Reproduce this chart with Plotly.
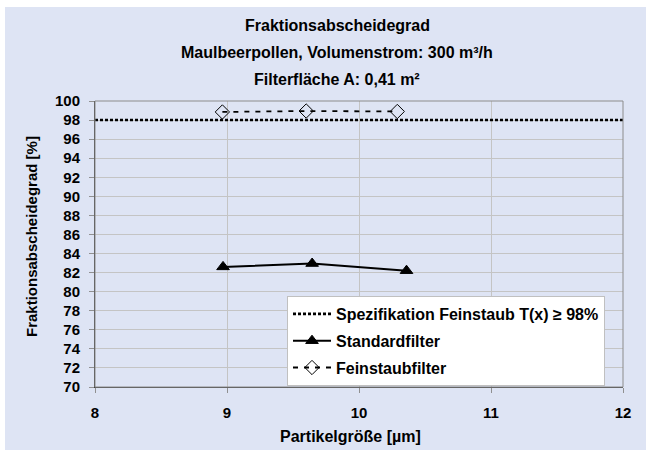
import plotly.graph_objects as go

# ---- data ----
x_spec = [8, 12]
y_spec = [98, 98]

x_standard = [8.97, 9.645, 10.36]
y_standard = [82.6, 82.95, 82.2]

x_fein = [8.965, 9.6, 10.29]
y_fein = [98.85, 98.95, 98.9]

title_lines = ["Fraktionsabscheidegrad",
               "Maulbeerpollen, Volumenstrom: 300 m³/h",
               "Filterfläche A: 0,41 m²"]
x_ticks = [8, 9, 10, 11, 12]
y_ticks = list(range(70, 101, 2))

FONT = "Liberation Sans, Arial, sans-serif"

# pixel geometry of the plot area
W, H = 646, 450
L, R, T, B = 95, 623, 101, 387


def px(xp):
    return (xp - L) / (R - L)


def py(yp):
    return (B - yp) / (B - T)


fig = go.Figure()
fig.add_trace(go.Scatter(
    x=x_spec, y=y_spec, mode="lines", name="Spezifikation Feinstaub T(x) ≥ 98%",
    line=dict(color="black", width=2.6, dash="3px,2px"), legendgroup="a"))
fig.add_trace(go.Scatter(
    x=x_standard, y=y_standard, mode="lines+markers", name="Standardfilter",
    line=dict(color="black", width=2),
    marker=dict(symbol="triangle-up", size=11, color="black",
                line=dict(color="black", width=1)), legendgroup="b"))
fig.add_trace(go.Scatter(
    x=x_fein, y=y_fein, mode="lines+markers", name="Feinstaubfilter",
    line=dict(color="black", width=1.8, dash="5px,6px"),
    marker=dict(symbol="diamond-open", size=11, color="black",
                line=dict(color="black", width=1)), legendgroup="c"))

annotations = []
for i, t in enumerate(title_lines):
    annotations.append(dict(text=f"<b>{t}</b>", x=px(337), y=py(26 + 26.5 * i),
                            xref="paper", yref="paper", showarrow=False,
                            xanchor="center", yanchor="middle",
                            font=dict(family=FONT, size=16, color="black")))
annotations.append(dict(text="<b>Partikelgröße [µm]</b>", x=px(350), y=py(436),
                        xref="paper", yref="paper", showarrow=False,
                        xanchor="center", yanchor="middle",
                        font=dict(family=FONT, size=16, color="black")))
annotations.append(dict(text="<b>Fraktionsabscheidegrad [%]</b>", x=px(31), y=py(237),
                        xref="paper", yref="paper", showarrow=False, textangle=-90,
                        xanchor="center", yanchor="middle",
                        font=dict(family=FONT, size=15, color="black")))

shapes = [
    dict(type="rect", xref="paper", yref="paper", layer="below",
         x0=px(5), x1=px(W + 2), y0=py(H + 2), y1=py(7),
         fillcolor="#DEE4F4", line=dict(width=0)),
    dict(type="rect", xref="paper", yref="paper", layer="above",
         x0=0, x1=1, y0=0, y1=1, line=dict(color="#8c8c8c", width=1)),
]

fig.update_layout(
    width=W, height=H,
    margin=dict(l=L, r=W - R, t=T, b=H - B),
    paper_bgcolor="white", plot_bgcolor="white",
    font=dict(family=FONT, size=15, color="black"),
    showlegend=True,
    legend=dict(x=px(287), y=py(296), xanchor="left", yanchor="top",
                bgcolor="white", bordercolor="#c0c0c0", borderwidth=1,
                font=dict(family=FONT, size=16, color="black", weight="bold"),
                traceorder="grouped", tracegroupgap=3, itemwidth=38),
    annotations=annotations, shapes=shapes,
)
fig.update_xaxes(range=[8, 12], tickvals=x_ticks, ticktext=[f"<b>{v}</b>" for v in x_ticks],
                 showgrid=True, gridcolor="#c4c4c4", gridwidth=1, zeroline=False,
                 showline=True, linecolor="#404040", linewidth=1,
                 ticks="outside", ticklen=5, tickcolor="#909090",
                 ticklabelstandoff=7,
                 tickfont=dict(family=FONT, size=15, color="black"))
fig.update_yaxes(range=[70, 100], tickvals=y_ticks, ticktext=[f"<b>{v}</b>" for v in y_ticks],
                 showgrid=True, gridcolor="#c4c4c4", gridwidth=1, zeroline=False,
                 showline=True, linecolor="#404040", linewidth=1,
                 ticks="outside", ticklen=5, tickcolor="#909090",
                 ticklabelstandoff=6,
                 tickfont=dict(family=FONT, size=15, color="black"))

fig.write_html("out.html")
